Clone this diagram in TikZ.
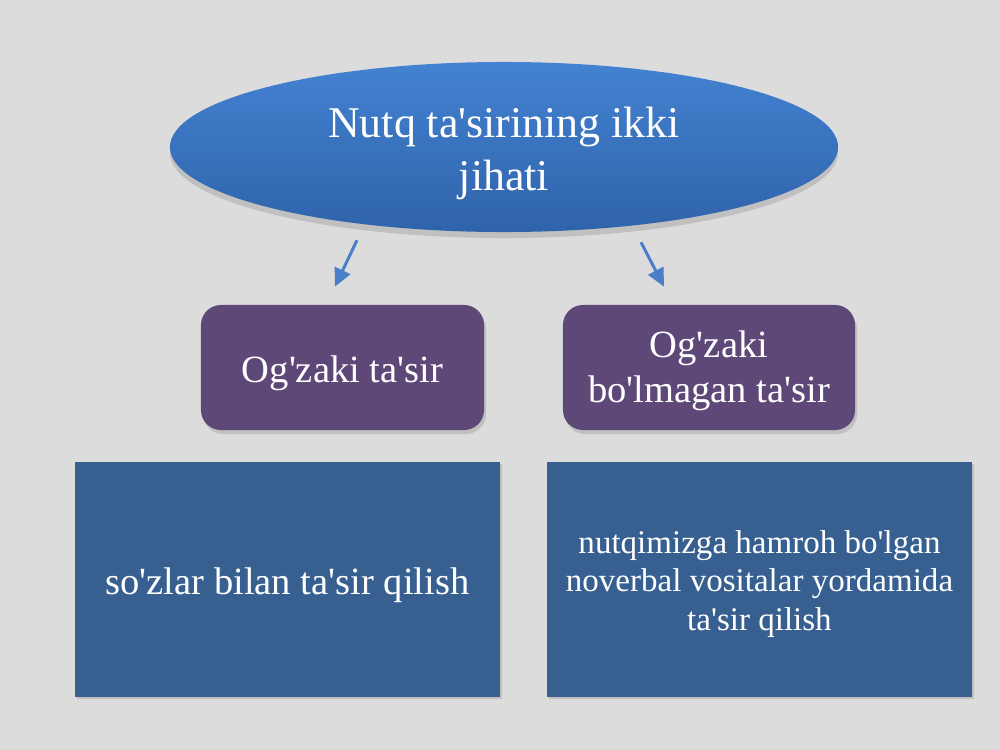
\documentclass[tikz,border=0pt]{standalone}
\usepackage{fontspec}
\setmainfont{Liberation Serif}
\usetikzlibrary{shapes.geometric,shadows,arrows.meta}

\newcommand{\ap}{\textquotesingle}
% taller first line, pushes the text a little lower in its box
\newcommand{\lift}[1]{\rule{0pt}{#1}}

\definecolor{slidebg}{HTML}{DCDCDC}
\definecolor{ovaltop}{HTML}{4382D2}
\definecolor{ovalbot}{HTML}{2F63A9}
\definecolor{kindpurple}{HTML}{5E4878}
\definecolor{waybox}{HTML}{376091}
\definecolor{arrowblue}{HTML}{4A7EC8}

\tikzset{
    oval/.style={ellipse, inner sep=0pt, minimum width=16.7cm, minimum height=4.25cm,
        top color=ovaltop, bottom color=ovalbot, text=white, align=center,
        font=\fontsize{31.2}{37}\selectfont,
        drop shadow={opacity=0.3, shadow xshift=0pt, shadow yshift=-1.5mm}},
    kind/.style={rectangle, rounded corners=5mm, fill=kindpurple, text=white, align=center,
        minimum height=3.125cm, font=\fontsize{27.4}{32}\selectfont,
        drop shadow={opacity=0.3, shadow xshift=0.5mm, shadow yshift=-1mm}},
    way/.style={rectangle, fill=waybox, text=white, align=center,
        minimum width=10.625cm, minimum height=5.875cm,
        drop shadow={opacity=0.3, shadow xshift=0.6mm, shadow yshift=-0.6mm}},
    pointer/.style={draw=arrowblue, line width=0.75mm, -{Triangle[length=4.5mm, width=4.2mm]}}
}

\begin{document}
\begin{tikzpicture}[x=0.025cm, y=-0.025cm]
    \fill[slidebg] (0,0) rectangle (1000,750);
    \useasboundingbox (0,0) rectangle (1000,750);

    \node[oval] (aspects) at (504,147) {\lift{30.8pt}Nutq ta\ap sirining ikki\\jihati};

    \node[kind, minimum width=7.075cm] (verbal) at (342.5,367.5) {\lift{26.6pt}Og\ap zaki ta\ap sir};
    \node[kind, minimum width=7.3cm] (nonverbal) at (709,367.5) {\lift{23pt}Og\ap zaki\\bo\ap lmagan ta\ap sir};

    \node[way, font=\fontsize{27.4}{33}\selectfont] (words) at (287.5,579.5) {\lift{26.5pt}so\ap zlar bilan ta\ap sir qilish};
    \node[way, font=\fontsize{23.5}{27.3}\selectfont] (means) at (759.5,579.5)
        {\lift{22.4pt}nutqimizga hamroh bo\ap lgan\\noverbal vositalar yordamida\\ta\ap sir qilish};

    % arrows from the oval to the two kinds
    \draw[pointer] ([xshift=-36.75mm, yshift=-2mm]aspects.south) -- ([xshift=-1.9mm, yshift=4.5mm]verbal.north);
    \draw[pointer] ([xshift=34.25mm, yshift=-2.5mm]aspects.south) -- ([xshift=-11.25mm, yshift=4.5mm]nonverbal.north);
\end{tikzpicture}
\end{document}
